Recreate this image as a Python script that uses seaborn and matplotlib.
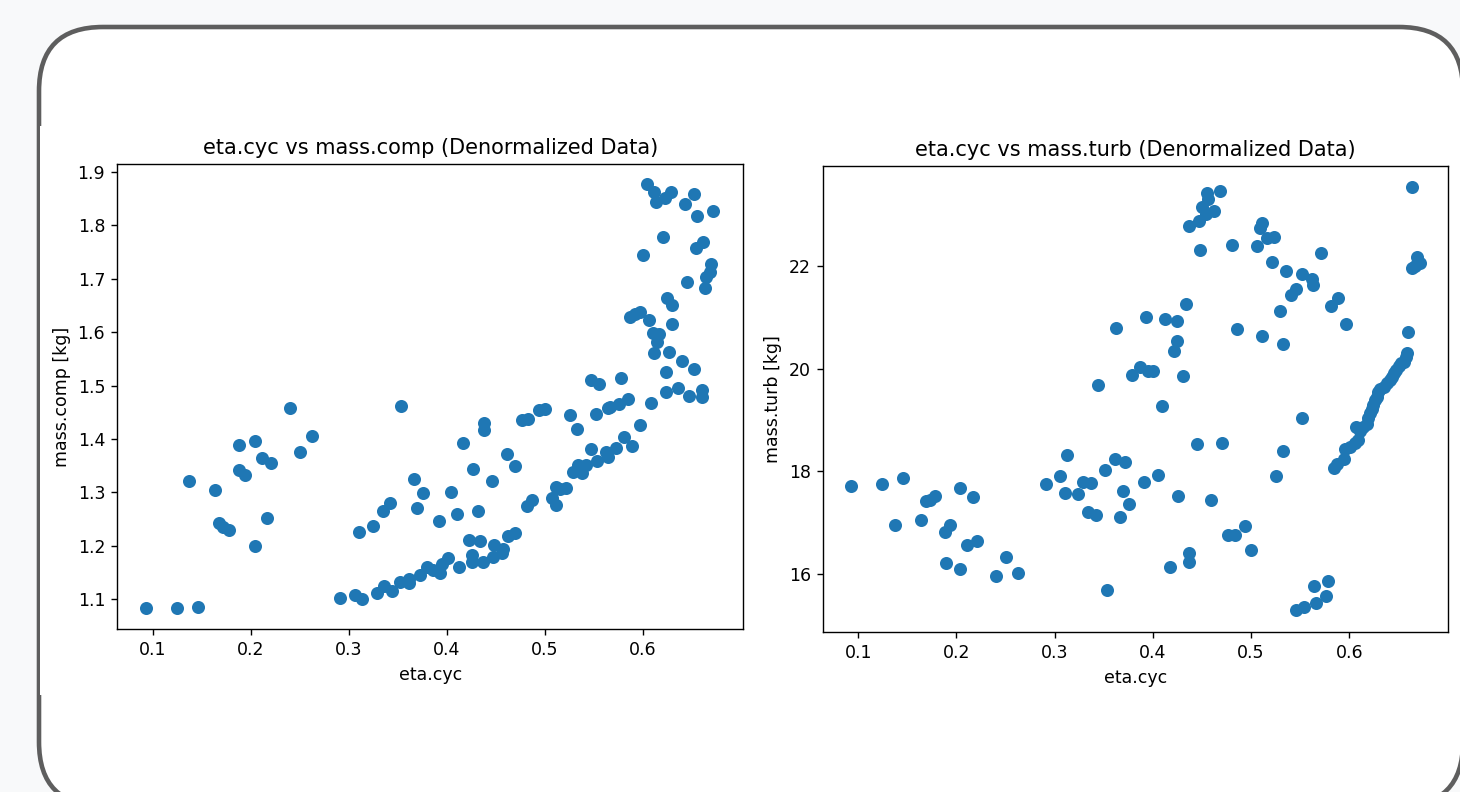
# eta.cyc vs component masses, two scatter panels on a rounded card
import matplotlib.pyplot as plt
import numpy as np
import pandas as pd
import seaborn as sns
from matplotlib.patches import FancyBboxPatch, Rectangle
from matplotlib.transforms import IdentityTransform

# --- data (denormalized) ---
eta_cyc_comp = [
    0.093, 0.125, 0.146, 0.137, 0.164, 0.168, 0.172, 0.178, 0.188, 0.188,
    0.194, 0.204, 0.204, 0.212, 0.221, 0.217, 0.240, 0.250, 0.263, 0.291,
    0.306, 0.314, 0.353, 0.311, 0.325, 0.335, 0.342, 0.329, 0.336, 0.344,
    0.352, 0.362, 0.362, 0.373, 0.380, 0.367, 0.376, 0.370,
    0.604, 0.612, 0.614, 0.623, 0.629, 0.652, 0.643, 0.655, 0.672, 0.621,
    0.600, 0.654, 0.661, 0.670, 0.669, 0.665, 0.664, 0.645, 0.587, 0.597,
    0.592, 0.606, 0.625, 0.630, 0.630, 0.610, 0.617, 0.615, 0.611, 0.627,
    0.640, 0.652, 0.624, 0.636, 0.624, 0.647, 0.660, 0.660, 0.608, 0.597,
    0.578, 0.547, 0.555, 0.585, 0.576, 0.567, 0.565, 0.552, 0.526, 0.533,
    0.581, 0.589, 0.547, 0.563, 0.573, 0.565, 0.553, 0.542, 0.534, 0.529,
    0.538, 0.522, 0.516, 0.511, 0.507, 0.511, 0.500, 0.494, 0.483, 0.477,
    0.438, 0.438, 0.417, 0.461, 0.470, 0.427, 0.446, 0.404, 0.392, 0.410,
    0.432, 0.482, 0.487, 0.423, 0.434, 0.426, 0.426, 0.413, 0.437, 0.447,
    0.448, 0.457, 0.456, 0.463, 0.470, 0.401, 0.395, 0.393, 0.386,
]
mass_comp = [
    1.083, 1.083, 1.086, 1.322, 1.305, 1.242, 1.236, 1.230, 1.388, 1.341,
    1.332, 1.397, 1.199, 1.365, 1.355, 1.253, 1.457, 1.376, 1.405, 1.103,
    1.108, 1.100, 1.461, 1.225, 1.237, 1.265, 1.280, 1.112, 1.125, 1.116,
    1.133, 1.138, 1.130, 1.146, 1.160, 1.326, 1.298, 1.270,
    1.877, 1.862, 1.844, 1.850, 1.862, 1.858, 1.840, 1.818, 1.827, 1.777,
    1.744, 1.758, 1.769, 1.727, 1.713, 1.703, 1.682, 1.693, 1.629, 1.638,
    1.634, 1.623, 1.663, 1.650, 1.615, 1.599, 1.596, 1.582, 1.561, 1.563,
    1.545, 1.530, 1.525, 1.495, 1.487, 1.480, 1.492, 1.478, 1.467, 1.426,
    1.514, 1.510, 1.502, 1.474, 1.465, 1.460, 1.457, 1.447, 1.445, 1.419,
    1.403, 1.387, 1.381, 1.376, 1.384, 1.367, 1.359, 1.351, 1.351, 1.339,
    1.337, 1.308, 1.306, 1.311, 1.289, 1.277, 1.456, 1.454, 1.437, 1.436,
    1.429, 1.417, 1.393, 1.372, 1.350, 1.343, 1.322, 1.300, 1.247, 1.259,
    1.265, 1.275, 1.285, 1.211, 1.210, 1.183, 1.169, 1.160, 1.170, 1.179,
    1.202, 1.194, 1.186, 1.218, 1.224, 1.177, 1.167, 1.150, 1.155,
]

eta_cyc_turb = [
    0.093, 0.124, 0.146, 0.137, 0.164, 0.169, 0.173, 0.178, 0.188, 0.193,
    0.189, 0.204, 0.217, 0.211, 0.221, 0.204, 0.240, 0.250, 0.263, 0.291,
    0.305, 0.311, 0.313, 0.324, 0.329, 0.337, 0.334, 0.342, 0.353, 0.351,
    0.361, 0.372, 0.370, 0.376, 0.367, 0.362, 0.344, 0.379,
    0.393, 0.412, 0.425, 0.434, 0.425, 0.422, 0.387, 0.395, 0.400, 0.431,
    0.409, 0.445, 0.470, 0.552, 0.532, 0.525, 0.405, 0.391, 0.426, 0.459,
    0.494, 0.476, 0.484, 0.500, 0.437, 0.437, 0.417, 0.546, 0.554, 0.566,
    0.564, 0.576, 0.578,
    0.455, 0.468, 0.456, 0.450, 0.462, 0.454, 0.447, 0.437, 0.448, 0.481,
    0.511, 0.509, 0.516, 0.523, 0.506, 0.521, 0.536, 0.552, 0.562, 0.563,
    0.571, 0.546, 0.541, 0.588, 0.581, 0.529, 0.597, 0.486, 0.511, 0.532,
    0.664, 0.669, 0.672, 0.664, 0.667, 0.660,
    0.584, 0.587, 0.595, 0.596, 0.601, 0.606, 0.609, 0.607, 0.611, 0.614,
    0.618, 0.619, 0.621, 0.623, 0.624, 0.626, 0.628, 0.629, 0.631, 0.635,
    0.638, 0.641, 0.643, 0.646, 0.648, 0.651, 0.653, 0.656, 0.658, 0.659,
]
mass_turb = [
    17.72, 17.75, 17.86, 16.95, 17.05, 17.43, 17.44, 17.51, 16.81, 16.95,
    16.22, 17.67, 17.49, 16.57, 16.64, 16.10, 15.97, 16.34, 16.01, 17.75,
    17.90, 17.57, 18.31, 17.55, 17.80, 17.78, 17.21, 17.14, 15.68, 18.02,
    18.24, 18.19, 17.62, 17.36, 17.10, 20.79, 19.68, 19.88,
    21.01, 20.96, 20.93, 21.25, 20.54, 20.34, 20.04, 19.96, 19.95, 19.86,
    19.27, 18.53, 18.56, 19.03, 18.40, 17.90, 17.92, 17.80, 17.52, 17.45,
    16.94, 16.76, 16.76, 16.47, 16.40, 16.24, 16.14, 15.29, 15.36, 15.43,
    15.77, 15.58, 15.87,
    23.41, 23.45, 23.30, 23.15, 23.06, 23.01, 22.88, 22.78, 22.30, 22.41,
    22.84, 22.73, 22.54, 22.56, 22.39, 22.07, 21.90, 21.84, 21.74, 21.63,
    22.25, 21.54, 21.43, 21.37, 21.21, 21.13, 20.87, 20.77, 20.64, 20.47,
    23.54, 22.18, 22.06, 21.95, 22.00, 20.72,
    18.06, 18.14, 18.23, 18.43, 18.47, 18.55, 18.61, 18.87, 18.79, 18.87,
    18.93, 19.03, 19.13, 19.21, 19.29, 19.38, 19.45, 19.55, 19.60, 19.65,
    19.71, 19.78, 19.84, 19.91, 19.97, 20.05, 20.10, 20.13, 20.23, 20.31,
]

df_comp = pd.DataFrame({"eta.cyc": eta_cyc_comp, "mass.comp": mass_comp})
df_turb = pd.DataFrame({"eta.cyc": eta_cyc_turb, "mass.turb": mass_turb})

# screenshot was taken at 1.25x, so scale the matplotlib defaults
k = 1.25
plt.rcParams.update({
    "font.family": "DejaVu Sans",
    "font.size": 10 * k,
    "axes.linewidth": 0.8 * k,
    "axes.titlesize": 12 * k,
    "axes.titlepad": 6 * k,
    "axes.labelpad": 4 * k,
    "xtick.major.size": 3.5 * k,
    "ytick.major.size": 3.5 * k,
    "xtick.major.width": 0.8 * k,
    "ytick.major.width": 0.8 * k,
    "xtick.major.pad": 3.5 * k,
    "ytick.major.pad": 3.5 * k,
})

W, H = 1460, 792
fig = plt.figure(figsize=(W / 100, H / 100), dpi=100)
fig.patch.set_facecolor("#f8f9fa")

# rounded card behind the plots (pixel coords, origin bottom-left)
card = FancyBboxPatch((39, H - 806), 1424, 779,
                      boxstyle="round,pad=0,rounding_size=64",
                      transform=IdentityTransform(), facecolor="white",
                      edgecolor="#5e5e5e", linewidth=3.3, zorder=-2)
fig.patches.append(card)
# the figure image sits over part of the card's left border
fig.patches.append(Rectangle((39.5, H - 695), 1421, 569, transform=IdentityTransform(),
                             facecolor="white", edgecolor="none", zorder=-1))


def px_axes(left, top, right, bottom):
    return fig.add_axes([left / W, (H - bottom) / H, (right - left) / W, (bottom - top) / H])


blue = "#1f77b4"
size = 36 * k * k
lw = 1.5 * k

ax1 = px_axes(117.3, 164, 743, 629.3)
sns.scatterplot(data=df_comp, x="eta.cyc", y="mass.comp", ax=ax1, s=size,
                color=blue, edgecolor=blue, linewidth=lw)
ax1.set_xlim(0.0639, 0.7023)
ax1.set_ylim(1.0439, 1.9144)
ax1.set_xticks([0.1, 0.2, 0.3, 0.4, 0.5, 0.6])
ax1.set_yticks([1.1, 1.2, 1.3, 1.4, 1.5, 1.6, 1.7, 1.8, 1.9])
ax1.set_title("eta.cyc vs mass.comp (Denormalized Data)")
ax1.set_xlabel("eta.cyc")
ax1.set_ylabel("mass.comp [kg]")

ax2 = px_axes(823.3, 166, 1448.3, 631.7)
sns.scatterplot(data=df_turb, x="eta.cyc", y="mass.turb", ax=ax2, s=size,
                color=blue, edgecolor=blue, linewidth=lw)
ax2.set_xlim(0.0644, 0.7008)
ax2.set_ylim(14.876, 23.945)
ax2.set_xticks([0.1, 0.2, 0.3, 0.4, 0.5, 0.6])
ax2.set_yticks([16, 18, 20, 22])
ax2.set_title("eta.cyc vs mass.turb (Denormalized Data)")
ax2.set_xlabel("eta.cyc")
ax2.set_ylabel("mass.turb [kg]")

fig.savefig("out.png", dpi=100)
